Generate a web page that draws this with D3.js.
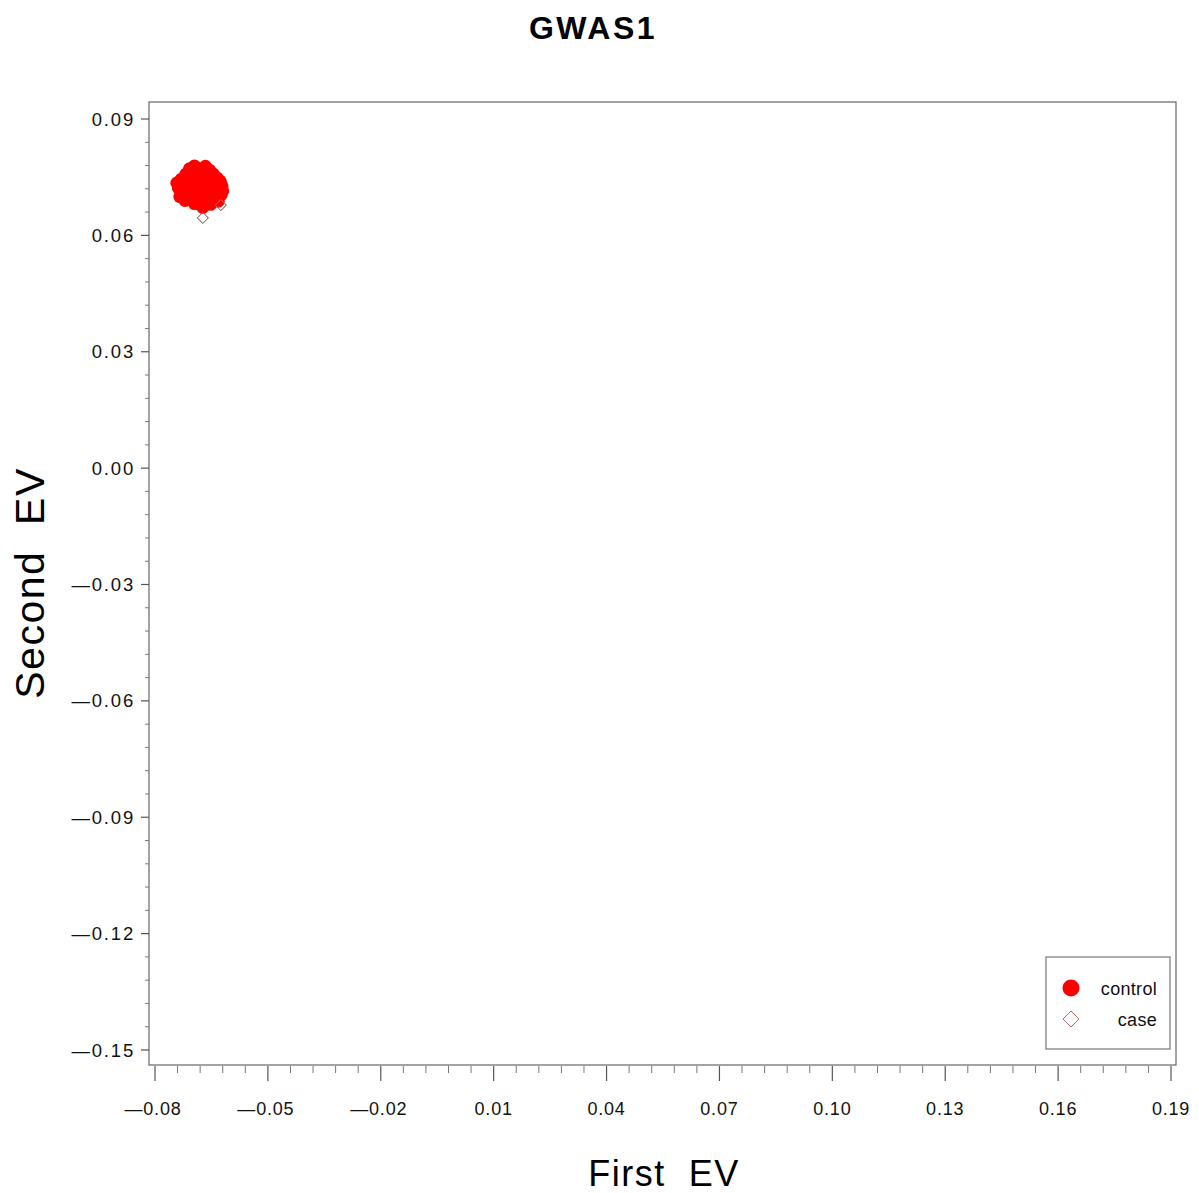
<!DOCTYPE html>
<html>
<head>
<meta charset="utf-8">
<script src="https://cdn.jsdelivr.net/npm/d3@7"></script>
<style>
  html, body { margin: 0; padding: 0; background: #fff; }
  svg { display: block; }
</style>
</head>
<body>
<svg id="chart" width="1199" height="1193"></svg>
<script>
// Eigenvector scores (EV1 = first, EV2 = second) per sample group
const controlEV1 = [
  -0.0742, -0.0738, -0.0730, -0.0725, -0.0722, -0.0718, -0.0715, -0.0712, -0.0708, -0.0705,
  -0.0702, -0.0700, -0.0697, -0.0695, -0.0692, -0.0690, -0.0688, -0.0685, -0.0683, -0.0680,
  -0.0678, -0.0676, -0.0673, -0.0671, -0.0669, -0.0666, -0.0664, -0.0662, -0.0660, -0.0657,
  -0.0655, -0.0652, -0.0650, -0.0648, -0.0645, -0.0643, -0.0640, -0.0638, -0.0635, -0.0632,
  -0.0630, -0.0627, -0.0624, -0.0622, -0.0620, -0.0734, -0.0690, -0.0675, -0.0660, -0.0700,
  -0.0680, -0.0668, -0.0655, -0.0685, -0.0720, -0.0710, -0.0650, -0.0695
];
const controlEV2 = [
   0.0735,  0.0722,  0.0745,  0.0712,  0.0730,  0.0758,  0.0700,  0.0742,  0.0772,  0.0722,
   0.0690,  0.0752,  0.0735,  0.0779,  0.0708,  0.0762,  0.0682,  0.0745,  0.0725,  0.0770,
   0.0698,  0.0755,  0.0672,  0.0738,  0.0716,  0.0778,  0.0690,  0.0750,  0.0728,  0.0705,
   0.0768,  0.0680,  0.0740,  0.0718,  0.0758,  0.0695,  0.0732,  0.0710,  0.0748,  0.0688,
   0.0722,  0.0740,  0.0705,  0.0728,  0.0715,  0.0700,  0.0730,  0.0715,  0.0745,  0.0715,
   0.0740,  0.0700,  0.0725,  0.0705,  0.0690,  0.0765,  0.0760,  0.0682
];
const caseEV1 = [-0.0673, -0.0625, -0.0690, -0.0660, -0.0705];
const caseEV2 = [ 0.0645,  0.0678,  0.0725,  0.0735,  0.0745];

const xTicks = [-0.08, -0.05, -0.02, 0.01, 0.04, 0.07, 0.10, 0.13, 0.16, 0.19];
const yTicks = [0.09, 0.06, 0.03, 0.00, -0.03, -0.06, -0.09, -0.12, -0.15];
const groups = ["control", "case"];

const svg = d3.select("#chart");
const font = "'Liberation Sans', Arial, sans-serif";

const x = d3.scaleLinear().domain([-0.08, 0.19]).range([155, 1171]);
const y = d3.scaleLinear().domain([0.09, -0.15]).range([119, 1050]);

// plot frame, slightly outside the outermost ticks
const frame = { left: x(-0.08) - 6, right: x(0.19) + 5, top: y(0.09) - 17, bottom: y(-0.15) + 15 };
svg.append("rect")
  .attr("x", frame.left).attr("y", frame.top)
  .attr("width", frame.right - frame.left).attr("height", frame.bottom - frame.top)
  .attr("fill", "none").attr("stroke", "#666").attr("stroke-width", 1.2);

// minor tick values: four between each pair of labelled ticks
function minors(ticks) {
  const out = [];
  for (let i = 0; i < ticks.length - 1; i++) {
    const a = ticks[i], b = ticks[i + 1];
    for (let k = 1; k < 5; k++) out.push(a + (b - a) * k / 5);
  }
  return out;
}

// negative values use a long dash, as the axis labels are printed
const fmt = d => (d < 0 ? "\u2014" : "") + Math.abs(d).toFixed(2);

// x axis
const gx = svg.append("g");
gx.selectAll("line.maj").data(xTicks).join("line")
  .attr("x1", d => x(d)).attr("x2", d => x(d))
  .attr("y1", frame.bottom + 1).attr("y2", frame.bottom + 16)
  .attr("stroke", "#555").attr("stroke-width", 1.2);
gx.selectAll("line.min").data(minors(xTicks)).join("line")
  .attr("x1", d => x(d)).attr("x2", d => x(d))
  .attr("y1", frame.bottom + 1).attr("y2", frame.bottom + 8)
  .attr("stroke", "#777").attr("stroke-width", 1);
gx.selectAll("text").data(xTicks).join("text")
  .attr("x", d => x(d) + (d < 0 ? -2 : 0)).attr("y", frame.bottom + 50)
  .attr("text-anchor", "middle")
  .attr("font-family", font).attr("font-size", 18)
  .attr("letter-spacing", 0.8)
  .attr("fill", "#111")
  .text(fmt);

// y axis
const gy = svg.append("g");
gy.selectAll("line.maj").data(yTicks).join("line")
  .attr("x1", frame.left - 8).attr("x2", frame.left)
  .attr("y1", d => y(d)).attr("y2", d => y(d))
  .attr("stroke", "#555").attr("stroke-width", 1.2);
gy.selectAll("line.min").data(minors(yTicks)).join("line")
  .attr("x1", frame.left - 4).attr("x2", frame.left)
  .attr("y1", d => y(d)).attr("y2", d => y(d))
  .attr("stroke", "#777").attr("stroke-width", 1);
gy.selectAll("text").data(yTicks).join("text")
  .attr("x", frame.left - 14).attr("y", d => y(d) + 6.5)
  .attr("text-anchor", "end")
  .attr("font-family", font).attr("font-size", 18.5)
  .attr("letter-spacing", 1.8)
  .attr("fill", "#111")
  .text(fmt);

// title and axis titles
svg.append("text")
  .attr("x", 593).attr("y", 39)
  .attr("text-anchor", "middle")
  .attr("font-family", font).attr("font-weight", "bold")
  .attr("font-size", 32).attr("letter-spacing", 2.5)
  .text("GWAS1");

svg.append("text")
  .attr("x", 664).attr("y", 1186)
  .attr("text-anchor", "middle")
  .attr("font-family", font).attr("font-size", 36)
  .attr("letter-spacing", 1.5)
  .attr("xml:space", "preserve").style("white-space", "pre")
  .text("First  EV");

svg.append("text")
  .attr("transform", "translate(44,583) rotate(-90)")
  .attr("text-anchor", "middle")
  .attr("font-family", font).attr("font-size", 41)
  .attr("letter-spacing", 1.5)
  .attr("xml:space", "preserve").style("white-space", "pre")
  .text("Second  EV");

// points
const plot = svg.append("g");
const controls = controlEV1.map((v, i) => ({ ev1: v, ev2: controlEV2[i] }));
const cases = caseEV1.map((v, i) => ({ ev1: v, ev2: caseEV2[i] }));

const diamond = s => `M0,${-s}L${s},0L0,${s}L${-s},0Z`;

plot.selectAll("path.case").data(cases).join("path")
  .attr("class", "case")
  .attr("transform", d => `translate(${x(d.ev1)},${y(d.ev2)})`)
  .attr("d", diamond(5.5))
  .attr("fill", "none").attr("stroke", "#b86a6a").attr("stroke-width", 1);

plot.selectAll("circle.control").data(controls).join("circle")
  .attr("class", "control")
  .attr("cx", d => x(d.ev1)).attr("cy", d => y(d.ev2))
  .attr("r", 6.5)
  .attr("fill", "#ff0000");

// keep the two outlying case markers drawn over the cluster edge
plot.selectAll("path.caseTop").data(cases.slice(0, 2)).join("path")
  .attr("class", "caseTop")
  .attr("transform", d => `translate(${x(d.ev1)},${y(d.ev2)})`)
  .attr("d", diamond(5.5))
  .attr("fill", "none").attr("stroke", "#b86a6a").attr("stroke-width", 1);

// legend
const lg = svg.append("g");
lg.append("rect")
  .attr("x", 1046).attr("y", 957).attr("width", 124).attr("height", 92)
  .attr("fill", "#fff").attr("stroke", "#777").attr("stroke-width", 1.2);
lg.selectAll("text").data(groups).join("text")
  .attr("x", 1157).attr("y", (d, i) => 995 + i * 31)
  .attr("text-anchor", "end")
  .attr("font-family", font).attr("font-size", 18)
  .attr("letter-spacing", 0.3)
  .attr("fill", "#111")
  .text(d => d);
lg.append("circle").attr("cx", 1071).attr("cy", 988).attr("r", 8.5).attr("fill", "#ff0000");
lg.append("path")
  .attr("transform", "translate(1071,1019)")
  .attr("d", diamond(8))
  .attr("fill", "none").attr("stroke", "#b86a6a").attr("stroke-width", 1);
</script>
</body>
</html>
